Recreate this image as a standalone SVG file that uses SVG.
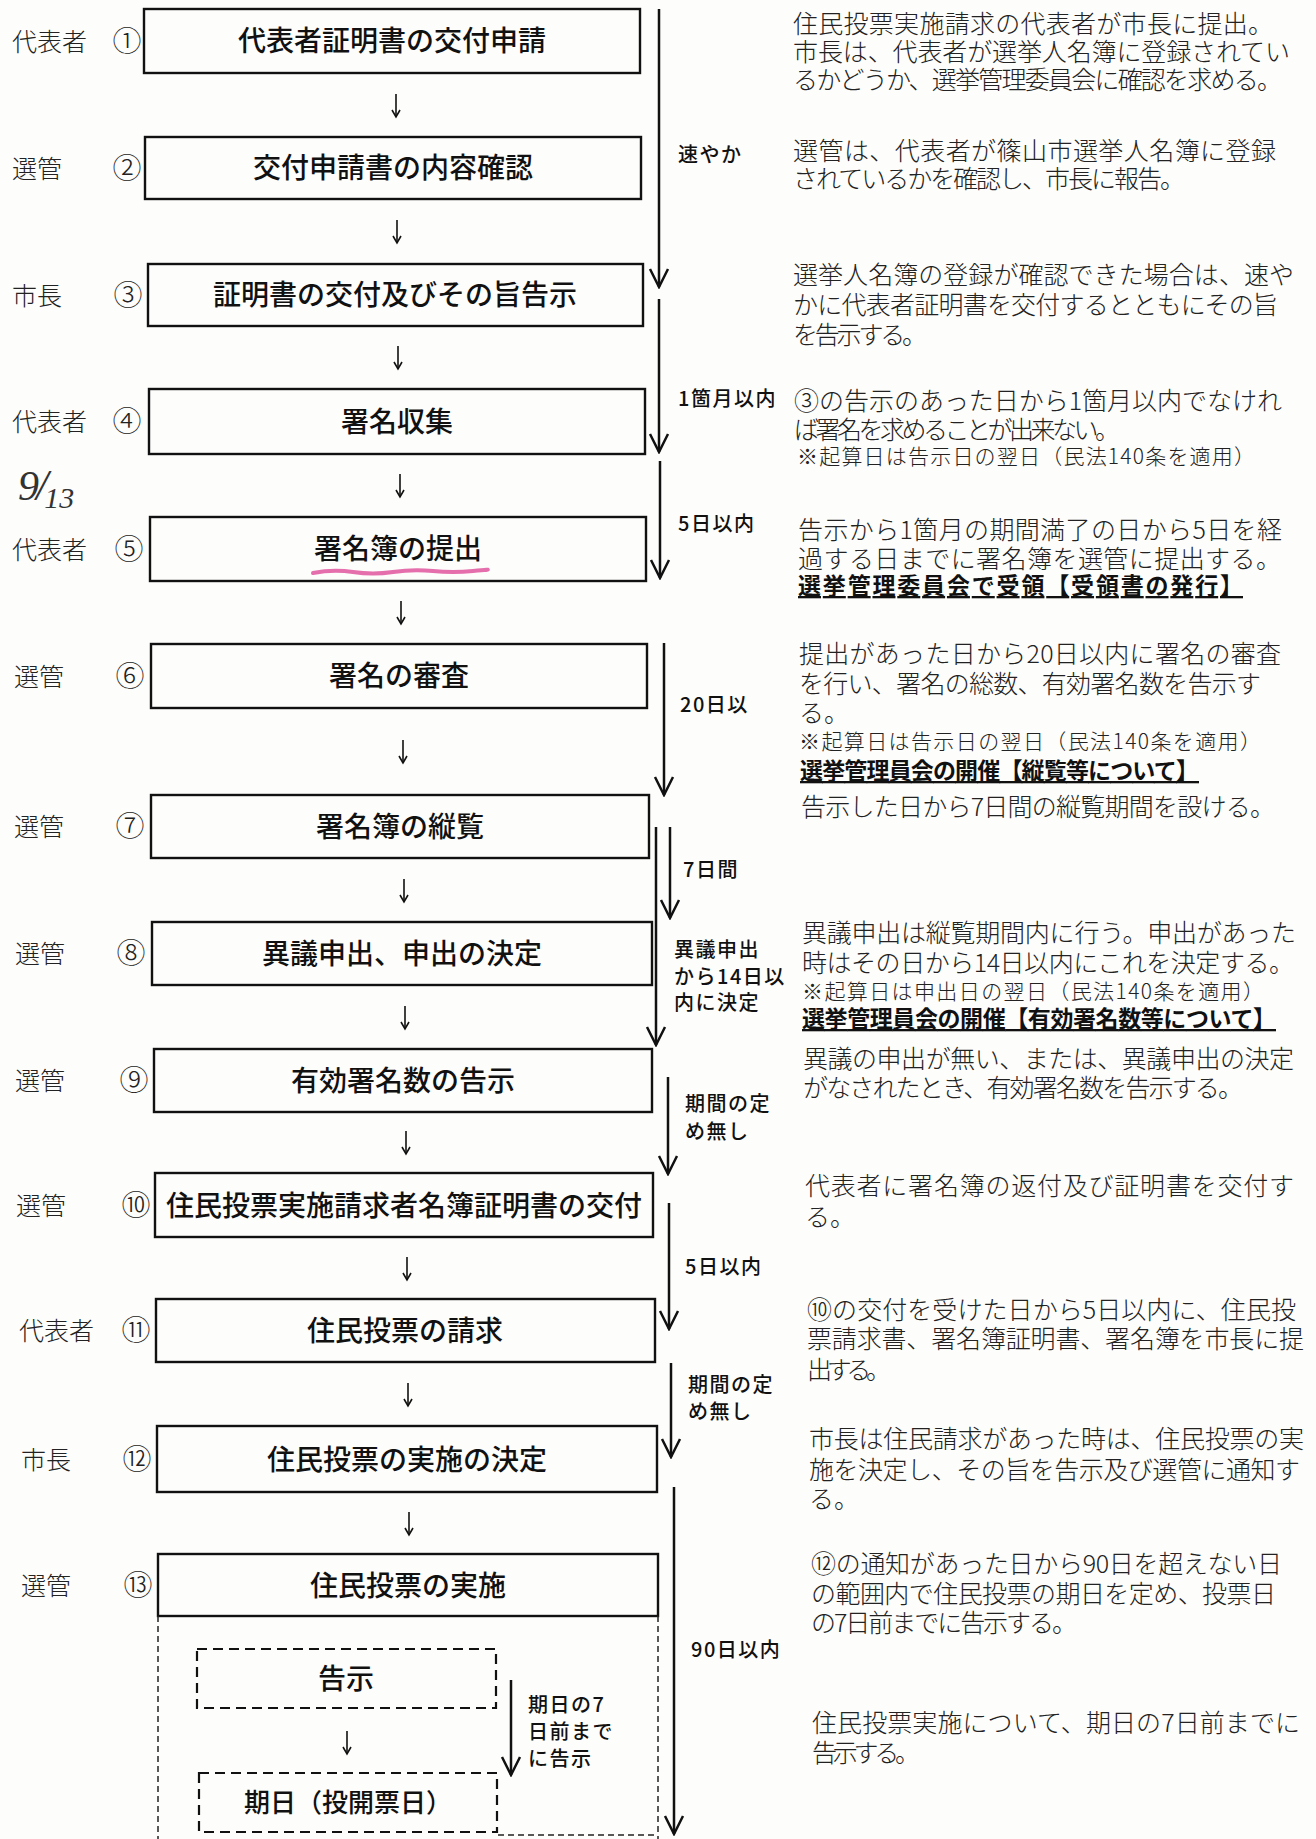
<svg xmlns="http://www.w3.org/2000/svg" width="1316" height="1839" viewBox="0 0 1316 1839">
<style>
.bg{fill:#fdfdfb}
.box{fill:none;stroke:#111;stroke-width:2.4}
.dbox{fill:none;stroke:#111;stroke-width:2.2;stroke-dasharray:10 6}
.odash{fill:none;stroke:#222;stroke-width:1.5;stroke-dasharray:6 4}
.bt{font-family:"Noto Sans CJK JP","Noto Sans",sans-serif;font-size:28px;font-weight:500;fill:#111;text-anchor:middle}
.role{font-family:"Noto Sans CJK JP","Liberation Serif",serif;font-size:25px;font-weight:300;fill:#222}
.num{font-family:"Noto Sans CJK JP","DejaVu Sans",sans-serif;font-size:29px;font-weight:300;fill:#222;text-anchor:middle}
.dt{font-family:"Noto Sans CJK JP","Liberation Serif",serif;font-size:25px;font-weight:300;fill:#222}
.ds{font-size:21px}
.db{font-size:23px;font-weight:700;fill:#111;text-decoration:underline}
.lt{font-family:"Noto Sans CJK JP","Liberation Sans",sans-serif;font-size:20px;font-weight:500;fill:#111;letter-spacing:1.5px}
.hand{font-family:"Liberation Serif",serif;font-style:italic;fill:#333}
.la{stroke:#111;stroke-width:2.5;fill:none}
.sa{stroke:#111;stroke-width:1.6;fill:none}
</style>
<defs>
<marker id="vh" viewBox="-21 -11 23 22" refX="0" refY="0" markerWidth="23" markerHeight="22" markerUnits="userSpaceOnUse" orient="auto">
<path d="M-18,-9 L0,0 L-18,9" fill="none" stroke="#111" stroke-width="2.5"/>
</marker>
<marker id="sh" viewBox="-9 -6 11 12" refX="0" refY="0" markerWidth="11" markerHeight="12" markerUnits="userSpaceOnUse" orient="auto">
<path d="M-7,-4 L0,0 L-7,4" fill="none" stroke="#111" stroke-width="1.6"/>
</marker>
</defs>
<rect class="bg" x="0" y="0" width="1316" height="1839"/>

<g id="connectors">
<line class="sa" x1="396" y1="94" x2="396" y2="117" marker-end="url(#sh)"/>
<line class="sa" x1="397" y1="220" x2="397" y2="243" marker-end="url(#sh)"/>
<line class="sa" x1="398" y1="346" x2="398" y2="369" marker-end="url(#sh)"/>
<line class="sa" x1="400" y1="474" x2="400" y2="497" marker-end="url(#sh)"/>
<line class="sa" x1="401" y1="601" x2="401" y2="624" marker-end="url(#sh)"/>
<line class="sa" x1="403" y1="740" x2="403" y2="763" marker-end="url(#sh)"/>
<line class="sa" x1="404" y1="879" x2="404" y2="902" marker-end="url(#sh)"/>
<line class="sa" x1="405" y1="1006" x2="405" y2="1029" marker-end="url(#sh)"/>
<line class="sa" x1="406" y1="1131" x2="406" y2="1154" marker-end="url(#sh)"/>
<line class="sa" x1="407" y1="1257" x2="407" y2="1280" marker-end="url(#sh)"/>
<line class="sa" x1="408" y1="1383" x2="408" y2="1406" marker-end="url(#sh)"/>
<line class="sa" x1="409" y1="1512" x2="409" y2="1535" marker-end="url(#sh)"/>
<line class="sa" x1="347" y1="1731" x2="347" y2="1754" marker-end="url(#sh)"/>
<line class="la" x1="659" y1="9" x2="659" y2="287" marker-end="url(#vh)"/>
<line class="la" x1="659" y1="299" x2="659" y2="452" marker-end="url(#vh)"/>
<line class="la" x1="660" y1="461" x2="660" y2="578" marker-end="url(#vh)"/>
<line class="la" x1="664" y1="643" x2="664" y2="795" marker-end="url(#vh)"/>
<line class="la" x1="670" y1="827" x2="670" y2="918" marker-end="url(#vh)"/>
<line class="la" x1="656" y1="827" x2="656" y2="1045" marker-end="url(#vh)"/>
<line class="la" x1="668" y1="1077" x2="668" y2="1174" marker-end="url(#vh)"/>
<line class="la" x1="669" y1="1203" x2="669" y2="1329" marker-end="url(#vh)"/>
<line class="la" x1="671" y1="1363" x2="671" y2="1457" marker-end="url(#vh)"/>
<line class="la" x1="674" y1="1487" x2="674" y2="1834" marker-end="url(#vh)"/>
<line class="la" x1="511" y1="1680" x2="511" y2="1775" marker-end="url(#vh)"/>
</g>

<g id="labels-period">
<text class="lt" x="678" y="162">速やか</text>
<text class="lt" x="678" y="406">1箇月以内</text>
<text class="lt" x="678" y="531">5日以内</text>
<text class="lt" x="680" y="712">20日以</text>
<text class="lt" x="683" y="877">7日間</text>
<text class="lt"><tspan x="674" y="957">異議申出</tspan><tspan x="674" y="984">から14日以</tspan><tspan x="674" y="1010">内に決定</tspan></text>
<text class="lt"><tspan x="685" y="1111">期間の定</tspan><tspan x="685" y="1139">め無し</tspan></text>
<text class="lt" x="685" y="1274">5日以内</text>
<text class="lt"><tspan x="688" y="1392">期間の定</tspan><tspan x="688" y="1419">め無し</tspan></text>
<text class="lt" x="691" y="1657">90日以内</text>
<text class="lt"><tspan x="528" y="1712">期日の7</tspan><tspan x="528" y="1739">日前まで</tspan><tspan x="528" y="1766">に告示</tspan></text>
</g>

<g id="node1">
<text class="role" x="12" y="51">代表者</text><text class="num" x="127" y="52">①</text>
<rect class="box" x="144" y="9" width="496" height="64"/>
<text class="bt" x="392" y="51">代表者証明書の交付申請</text>
</g>
<g id="node2">
<text class="role" x="12" y="178">選管</text><text class="num" x="127" y="179">②</text>
<rect class="box" x="145" y="137" width="496" height="62"/>
<text class="bt" x="393" y="178">交付申請書の内容確認</text>
</g>
<g id="node3">
<text class="role" x="12" y="305">市長</text><text class="num" x="128" y="306">③</text>
<rect class="box" x="148" y="264" width="495" height="62"/>
<text class="bt" x="395" y="305">証明書の交付及びその旨告示</text>
</g>
<g id="node4">
<text class="role" x="12" y="431">代表者</text><text class="num" x="127" y="432">④</text>
<rect class="box" x="149" y="389" width="496" height="65"/>
<text class="bt" x="397" y="432">署名収集</text>
</g>
<g id="node5">
<text class="hand" x="18" y="500"><tspan font-size="42">9</tspan><tspan font-size="44" dx="-3">/</tspan><tspan font-size="30" dx="-4" dy="8">13</tspan></text>
<text class="role" x="12" y="559">代表者</text><text class="num" x="129" y="560">⑤</text>
<rect class="box" x="150" y="517" width="496" height="64"/>
<text class="bt" x="398" y="559">署名簿の提出</text>
<path d="M313,573 q20,-4 40,-1 t40,0 t40,-1 t40,0 t13,-1" fill="none" stroke="#e0559f" stroke-width="4" stroke-linecap="round" opacity="0.85"/>
</g>
<g id="node6">
<text class="role" x="14" y="686">選管</text><text class="num" x="130" y="687">⑥</text>
<rect class="box" x="151" y="644" width="496" height="64"/>
<text class="bt" x="399" y="686">署名の審査</text>
</g>
<g id="node7">
<text class="role" x="14" y="836">選管</text><text class="num" x="130" y="837">⑦</text>
<rect class="box" x="151" y="795" width="498" height="63"/>
<text class="bt" x="400" y="837">署名簿の縦覧</text>
</g>
<g id="node8">
<text class="role" x="15" y="963">選管</text><text class="num" x="131" y="964">⑧</text>
<rect class="box" x="152" y="922" width="500" height="63"/>
<text class="bt" x="402" y="964">異議申出、申出の決定</text>
</g>
<g id="node9">
<text class="role" x="15" y="1090">選管</text><text class="num" x="134" y="1091">⑨</text>
<rect class="box" x="154" y="1049" width="498" height="63"/>
<text class="bt" x="403" y="1091">有効署名数の告示</text>
</g>
<g id="node10">
<text class="role" x="16" y="1215">選管</text><text class="num" x="136" y="1216">⑩</text>
<rect class="box" x="155" y="1173" width="498" height="64"/>
<text class="bt" x="404" y="1216">住民投票実施請求者名簿証明書の交付</text>
</g>
<g id="node11">
<text class="role" x="19" y="1340">代表者</text><text class="num" x="136" y="1341">⑪</text>
<rect class="box" x="156" y="1299" width="499" height="63"/>
<text class="bt" x="405" y="1341">住民投票の請求</text>
</g>
<g id="node12">
<text class="role" x="21" y="1469">市長</text><text class="num" x="137" y="1470">⑫</text>
<rect class="box" x="157" y="1426" width="500" height="66"/>
<text class="bt" x="407" y="1470">住民投票の実施の決定</text>
</g>
<g id="node13">
<text class="role" x="21" y="1595">選管</text><text class="num" x="138" y="1596">⑬</text>
<rect class="box" x="158" y="1554" width="500" height="62"/>
<text class="bt" x="408" y="1596">住民投票の実施</text>
<path class="odash" d="M158,1616 V1839 M658,1616 V1839 M498,1835 H658"/>
</g>
<g id="node13a">
<rect class="dbox" x="197" y="1649" width="299" height="59"/>
<text class="bt" x="346" y="1689">告示</text>
</g>
<g id="node13b">
<rect class="dbox" x="199" y="1773" width="298" height="59"/>
<text class="bt" x="348" y="1812" style="font-size:26px">期日（投開票日）</text>
</g>

<g id="descriptions">
<text class="dt"><tspan x="793" y="33" textLength="480">住民投票実施請求の代表者が市長に提出。</tspan><tspan x="793" y="61" textLength="497">市長は、代表者が選挙人名簿に登録されてい</tspan><tspan x="793" y="89" textLength="489">るかどうか、選挙管理委員会に確認を求める。</tspan></text>

<text class="dt"><tspan x="793" y="160" textLength="483">選管は、代表者が篠山市選挙人名簿に登録</tspan><tspan x="793" y="188" textLength="392">されているかを確認し、市長に報告。</tspan></text>

<text class="dt"><tspan x="793" y="284" textLength="501">選挙人名簿の登録が確認できた場合は、速や</tspan><tspan x="793" y="314" textLength="485">かに代表者証明書を交付するとともにその旨</tspan><tspan x="793" y="344" textLength="134">を告示する。</tspan></text>

<text class="dt"><tspan x="794" y="410" textLength="488">③の告示のあった日から1箇月以内でなけれ</tspan><tspan x="794" y="439" textLength="326">ば署名を求めることが出来ない。</tspan><tspan class="ds" x="797" y="464" textLength="458">※起算日は告示日の翌日（民法140条を適用）</tspan></text>

<text class="dt"><tspan x="798" y="539" textLength="484">告示から1箇月の期間満了の日から5日を経</tspan><tspan x="798" y="568" textLength="483">過する日までに署名簿を選管に提出する。</tspan><tspan class="db" x="798" y="594" textLength="445">選挙管理委員会で受領【受領書の発行】</tspan></text>

<text class="dt"><tspan x="799" y="663" textLength="482">提出があった日から20日以内に署名の審査</tspan><tspan x="799" y="693" textLength="462">を行い、署名の総数、有効署名数を告示す</tspan><tspan x="799" y="722">る。</tspan><tspan class="ds" x="799" y="749" textLength="462">※起算日は告示日の翌日（民法140条を適用）</tspan><tspan class="db" x="800" y="779" textLength="399">選挙管理員会の開催【縦覧等について】</tspan></text>

<text class="dt" x="801" y="816" textLength="474">告示した日から7日間の縦覧期間を設ける。</text>

<text class="dt"><tspan x="802" y="942" textLength="494">異議申出は縦覧期間内に行う。申出があった</tspan><tspan x="802" y="972" textLength="492">時はその日から14日以内にこれを決定する。</tspan><tspan class="ds" x="802" y="999" textLength="462">※起算日は申出日の翌日（民法140条を適用）</tspan><tspan class="db" x="802" y="1027" textLength="474">選挙管理員会の開催【有効署名数等について】</tspan></text>

<text class="dt"><tspan x="803" y="1068" textLength="491">異議の申出が無い、または、異議申出の決定</tspan><tspan x="803" y="1097" textLength="440">がなされたとき、有効署名数を告示する。</tspan></text>

<text class="dt"><tspan x="805" y="1195" textLength="489">代表者に署名簿の返付及び証明書を交付す</tspan><tspan x="805" y="1226">る。</tspan></text>

<text class="dt"><tspan x="807" y="1319" textLength="489">⑩の交付を受けた日から5日以内に、住民投</tspan><tspan x="807" y="1348" textLength="497">票請求書、署名簿証明書、署名簿を市長に提</tspan><tspan x="807" y="1379" textLength="84">出する。</tspan></text>

<text class="dt"><tspan x="809" y="1448" textLength="495">市長は住民請求があった時は、住民投票の実</tspan><tspan x="809" y="1479" textLength="491">施を決定し、その旨を告示及び選管に通知す</tspan><tspan x="809" y="1508">る。</tspan></text>

<text class="dt"><tspan x="811" y="1573" textLength="471">⑫の通知があった日から90日を超えない日</tspan><tspan x="811" y="1603" textLength="465">の範囲内で住民投票の期日を定め、投票日</tspan><tspan x="811" y="1632" textLength="266">の7日前までに告示する。</tspan></text>

<text class="dt"><tspan x="812" y="1732" textLength="488">住民投票実施について、期日の7日前までに</tspan><tspan x="812" y="1762" textLength="108">告示する。</tspan></text>
</g>
</svg>
